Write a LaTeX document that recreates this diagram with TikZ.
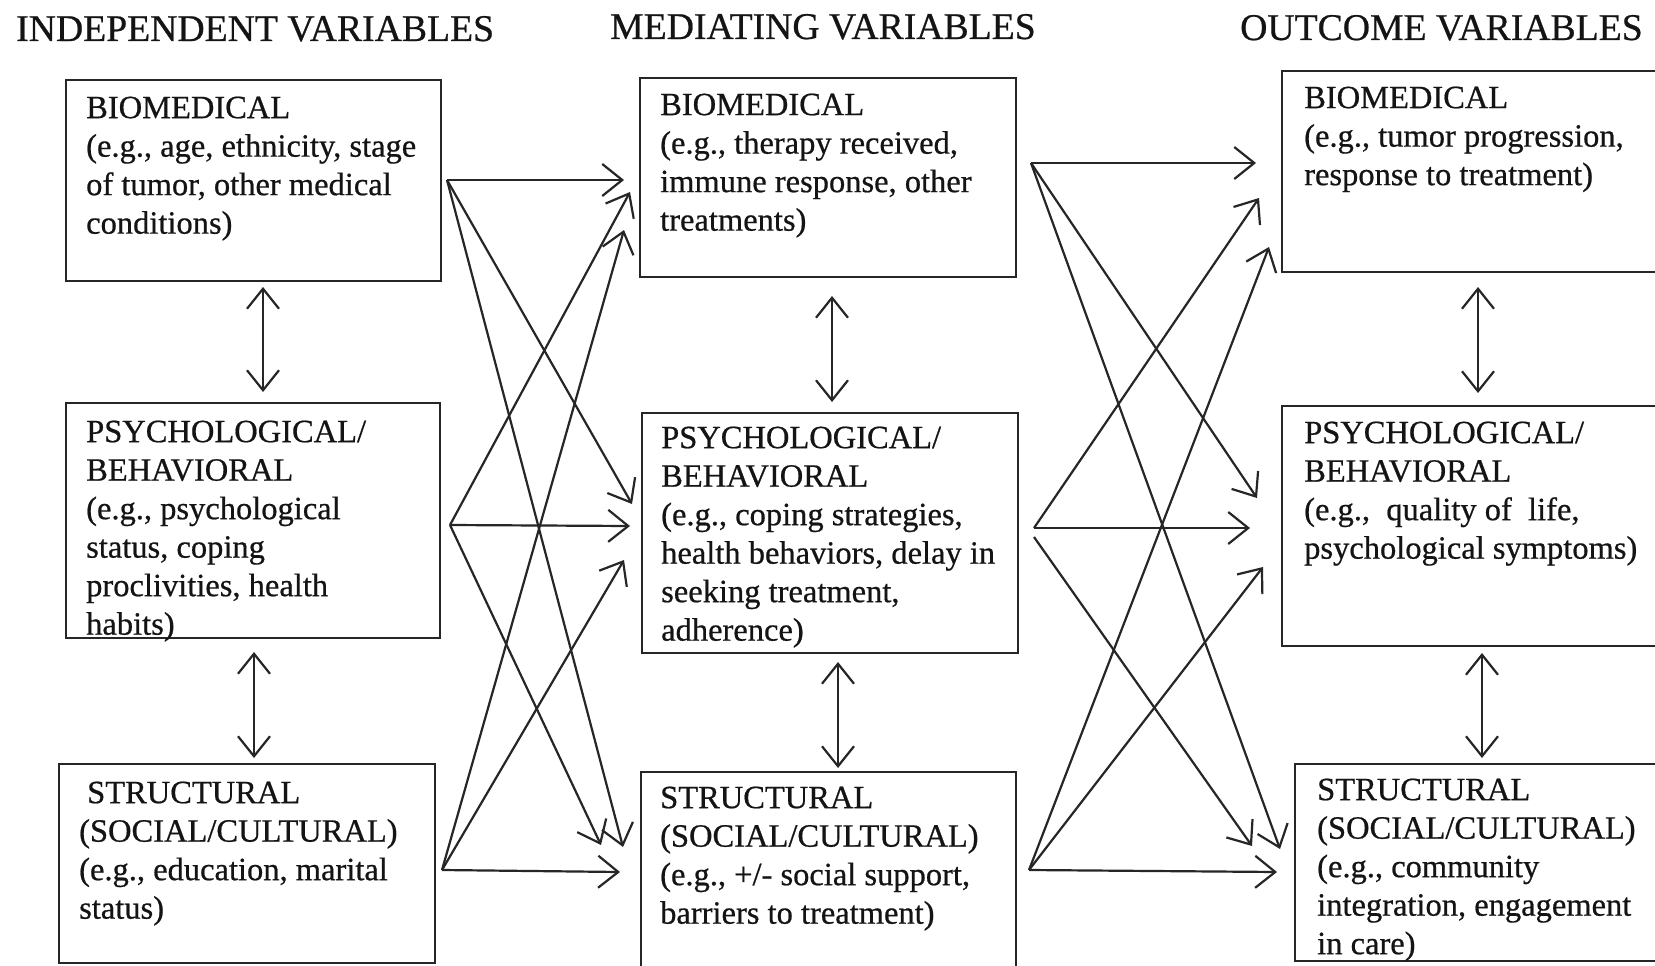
\documentclass[tikz,border=0pt]{standalone}
\usepackage{fontspec}
\setmainfont[FakeBold=0.6]{Liberation Serif}
\usetikzlibrary{arrows.meta}
\begin{document}
\begin{tikzpicture}[x=1pt,y=-1pt,
  box/.style={draw=black!85, line width=2.4pt, inner sep=0pt, anchor=north west},
  body/.style={font=\fontsize{32.5}{38.5}\selectfont, align=left, inner sep=0pt,
               anchor=north west, text=black!92},
  head/.style={font=\fontsize{37.7}{44}\selectfont, inner sep=0pt, anchor=base west,
               text=black!92},
  barb/.tip={Straight Barb[length=20pt,width=32pt]},
  link/.style={draw=black!85, line width=2.2pt, -barb},
  both/.style={draw=black!85, line width=2.2pt, barb-barb},
]
\useasboundingbox (0,0) rectangle (1655,966);
\clip (0,0) rectangle (1655,966);
\fill[white] (0,0) rectangle (1655,966);

% column headings
\node[head] (hInd) at (16,41) {INDEPENDENT VARIABLES};
\node[head] (hMed) at (610,39) {MEDIATING VARIABLES};
\node[head] (hOut) at (1240,40) {OUTCOME VARIABLES};

% frames
\node[box, minimum width=375, minimum height=201] (L1) at (65,79) {};
\node[box, minimum width=374, minimum height=235] (L2) at (65,402) {};
\node[box, minimum width=376, minimum height=199] (L3) at (58,763) {};
\node[box, minimum width=376, minimum height=199] (M1) at (639,77) {};
\node[box, minimum width=376, minimum height=240] (M2) at (641,412) {};
\node[box, minimum width=375, minimum height=250] (M3) at (640,771) {};
\node[box, minimum width=450, minimum height=201] (R1) at (1281,70) {};
\node[box, minimum width=450, minimum height=240] (R2) at (1281,405) {};
\node[box, minimum width=450, minimum height=197] (R3) at (1294,763) {};

% frame contents (north = first baseline - strut height)
\node[body] (L1t) at (86,91) {\strut BIOMEDICAL\\(e.g., age, ethnicity, stage\\of tumor, other medical\\conditions)};
\node[body] (L2t) at (86,415) {\strut PSYCHOLOGICAL/\\BEHAVIORAL\\(e.g., psychological\\status, coping\\proclivities, health\\habits)};
\node[body] (L3t) at (79,776) {\strut\hspace*{8pt}STRUCTURAL\\(SOCIAL/CULTURAL)\\(e.g., education, marital\\status)};
\node[body] (M1t) at (660,88) {\strut BIOMEDICAL\\(e.g., therapy received,\\immune response, other\\treatments)};
\node[body] (M2t) at (661,421) {\strut PSYCHOLOGICAL/\\BEHAVIORAL\\(e.g., coping strategies,\\health behaviors, delay in\\seeking treatment,\\adherence)};
\node[body] (M3t) at (660,781) {\strut STRUCTURAL\\(SOCIAL/CULTURAL)\\(e.g., +/- social support,\\barriers to treatment)};
\node[body] (R1t) at (1304,81) {\strut BIOMEDICAL\\(e.g., tumor progression,\\response to treatment)};
\node[body] (R2t) at (1304,416) {\strut PSYCHOLOGICAL/\\BEHAVIORAL\\(e.g.,\ \ quality of\ \ life,\\psychological symptoms)};
\node[body] (R3t) at (1317,773) {\strut STRUCTURAL\\(SOCIAL/CULTURAL)\\(e.g., community\\integration, engagement\\in care)};

% connector end points
\coordinate (L1o) at (447,180);
\coordinate (L2o) at (450,525);
\coordinate (L3o) at (442,870);
\coordinate (M1o) at (1031,163);
\coordinate (M2o) at (1034,528);
\coordinate (M2d) at (1034,537);
\coordinate (M3o) at (1029,870);

\coordinate (M1a) at (624,180);
\coordinate (M1b) at (630,192);
\coordinate (M1c) at (624,230);
\coordinate (M2a) at (632,504);
\coordinate (M2b) at (630,526);
\coordinate (M2c) at (624,560);
\coordinate (M3a) at (601,845);
\coordinate (M3b) at (623,847);
\coordinate (M3c) at (620,872);

\coordinate (R1a) at (1256,163);
\coordinate (R1b) at (1259,198);
\coordinate (R1c) at (1269,247);
\coordinate (R2a) at (1257,498);
\coordinate (R2b) at (1250,528);
\coordinate (R2c) at (1263,567);
\coordinate (R3a) at (1252,846);
\coordinate (R3b) at (1280,849);
\coordinate (R3c) at (1277,872);

% independent -> mediating
\draw[link] (L1o) -- (M1a);
\draw[link] (L1o) -- (M2a);
\draw[link] (L1o) -- (M3b);
\draw[link] (L2o) -- (M1b);
\draw[link] (L2o) -- (M2b);
\draw[link] (L2o) -- (M3a);
\draw[link] (L3o) -- (M1c);
\draw[link] (L3o) -- (M2c);
\draw[link] (L3o) -- (M3c);

% mediating -> outcome
\draw[link] (M1o) -- (R1a);
\draw[link] (M1o) -- (R2a);
\draw[link] (M1o) -- (R3b);
\draw[link] (M2o) -- (R1b);
\draw[link] (M2o) -- (R2b);
\draw[link] (M2d) -- (R3a);
\draw[link] (M3o) -- (R1c);
\draw[link] (M3o) -- (R2c);
\draw[link] (M3o) -- (R3c);

% links within each column
\coordinate (v1a) at (263,287);  \coordinate (v1b) at (263,392);
\coordinate (v2a) at (254,652);  \coordinate (v2b) at (254,758);
\coordinate (v3a) at (832,296);  \coordinate (v3b) at (832,402);
\coordinate (v4a) at (838,662);  \coordinate (v4b) at (838,768);
\coordinate (v5a) at (1478,287); \coordinate (v5b) at (1478,393);
\coordinate (v6a) at (1482,653); \coordinate (v6b) at (1482,758);
\draw[both] (v1a) -- (v1b);
\draw[both] (v2a) -- (v2b);
\draw[both] (v3a) -- (v3b);
\draw[both] (v4a) -- (v4b);
\draw[both] (v5a) -- (v5b);
\draw[both] (v6a) -- (v6b);
\end{tikzpicture}
\end{document}
